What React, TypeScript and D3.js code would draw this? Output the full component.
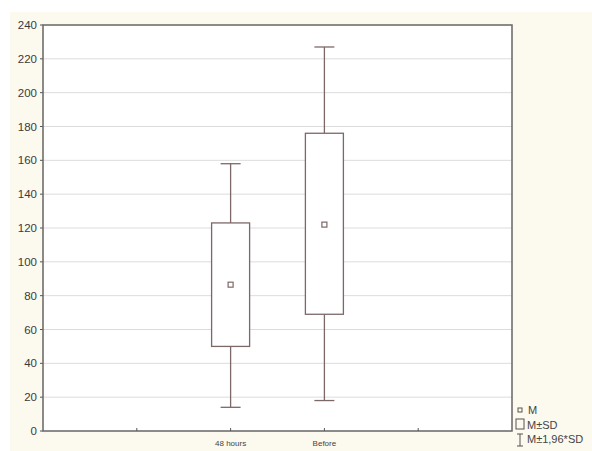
import * as d3 from "d3";

const categories = ["", "48 hours", "Before", ""];
const means = [null, 86.5, 122, null];
const sdLow = [null, 50, 69, null];
const sdHigh = [null, 123, 176, null];
const ciLow = [null, 14, 18, null];
const ciHigh = [null, 158, 227, null];
const yTicks = [0, 20, 40, 60, 80, 100, 120, 140, 160, 180, 200, 220, 240];
const legendLabels = ["M", "M±SD", "M±1,96*SD"];

const W = 592;
const H = 451;
const margin = { top: 25, right: 80, bottom: 20, left: 43 };
const stroke = "#7d6868";
const font = "Liberation Sans, Arial, sans-serif";

export default function App() {
  const x = d3.scaleLinear().domain([0, categories.length + 1]).range([margin.left, W - margin.right]);
  const y = d3.scaleLinear().domain([0, 240]).range([H - margin.bottom, margin.top]);
  const boxW = 38;
  const capW = 20;

  return (
    <svg width={W} height={H} style={{ display: "block", position: "absolute", left: 0, top: 0 }}>
      <rect x={0} y={0} width={W} height={H} fill="#ffffff" />
      <rect x={10} y={12} width={W - 10} height={H - 12} fill="#fcf9ef" />
      <rect x={margin.left} y={margin.top} width={W - margin.left - margin.right} height={H - margin.top - margin.bottom} fill="#ffffff" />
      {yTicks.map((t) => (
        <g key={t}>
          {t > 0 && t < 240 && (
            <line x1={margin.left} x2={W - margin.right} y1={y(t)} y2={y(t)} stroke="#dcdcdc" strokeWidth={1} />
          )}
          <line x1={margin.left - 3} x2={margin.left} y1={y(t)} y2={y(t)} stroke="#555" />
          <text x={margin.left - 6} y={y(t)} dy="0.35em" textAnchor="end" fontSize={11.5} fontFamily={font} fill="#3a3a3a">
            {t}
          </text>
        </g>
      ))}
      <rect x={margin.left} y={margin.top} width={W - margin.left - margin.right} height={H - margin.top - margin.bottom} fill="none" stroke="#666" strokeWidth={1.5} />
      {categories.map((c, i) => {
        const cx = x(i + 1);
        const m = means[i];
        return (
          <g key={i}>
            <line x1={cx} x2={cx} y1={y(0)} y2={y(0) - 3} stroke="#555" />
            <text x={cx} y={y(0) + 15} textAnchor="middle" fontSize={8} fontFamily={font} fill="#444">
              {c}
            </text>
            {m !== null && (
              <g stroke={stroke} fill="none" strokeWidth={1.3}>
                <line x1={cx} x2={cx} y1={y(ciHigh[i]!)} y2={y(sdHigh[i]!)} />
                <line x1={cx} x2={cx} y1={y(sdLow[i]!)} y2={y(ciLow[i]!)} />
                <line x1={cx - capW / 2} x2={cx + capW / 2} y1={y(ciHigh[i]!)} y2={y(ciHigh[i]!)} />
                <line x1={cx - capW / 2} x2={cx + capW / 2} y1={y(ciLow[i]!)} y2={y(ciLow[i]!)} />
                <rect x={cx - boxW / 2} y={y(sdHigh[i]!)} width={boxW} height={y(sdLow[i]!) - y(sdHigh[i]!)} fill="#fff" />
                <rect x={cx - 2.5} y={y(m) - 2.5} width={5} height={5} fill="#fff" strokeWidth={1.2} />
              </g>
            )}
          </g>
        );
      })}
      <g fontFamily={font} fontSize={11} fill="#444">
        <rect x={518} y={408} width={4} height={4} fill="none" stroke="#555" />
        <text x={528} y={410} dy="0.35em">{legendLabels[0]}</text>
        <rect x={516} y={419} width={8} height={10} fill="none" stroke="#555" />
        <text x={527} y={425} dy="0.35em">{legendLabels[1]}</text>
        <g stroke="#555">
          <line x1={520} x2={520} y1={434} y2={446} />
          <line x1={517} x2={523} y1={434} y2={434} />
          <line x1={517} x2={523} y1={446} y2={446} />
        </g>
        <text x={527} y={439} dy="0.35em">{legendLabels[2]}</text>
      </g>
    </svg>
  );
}
